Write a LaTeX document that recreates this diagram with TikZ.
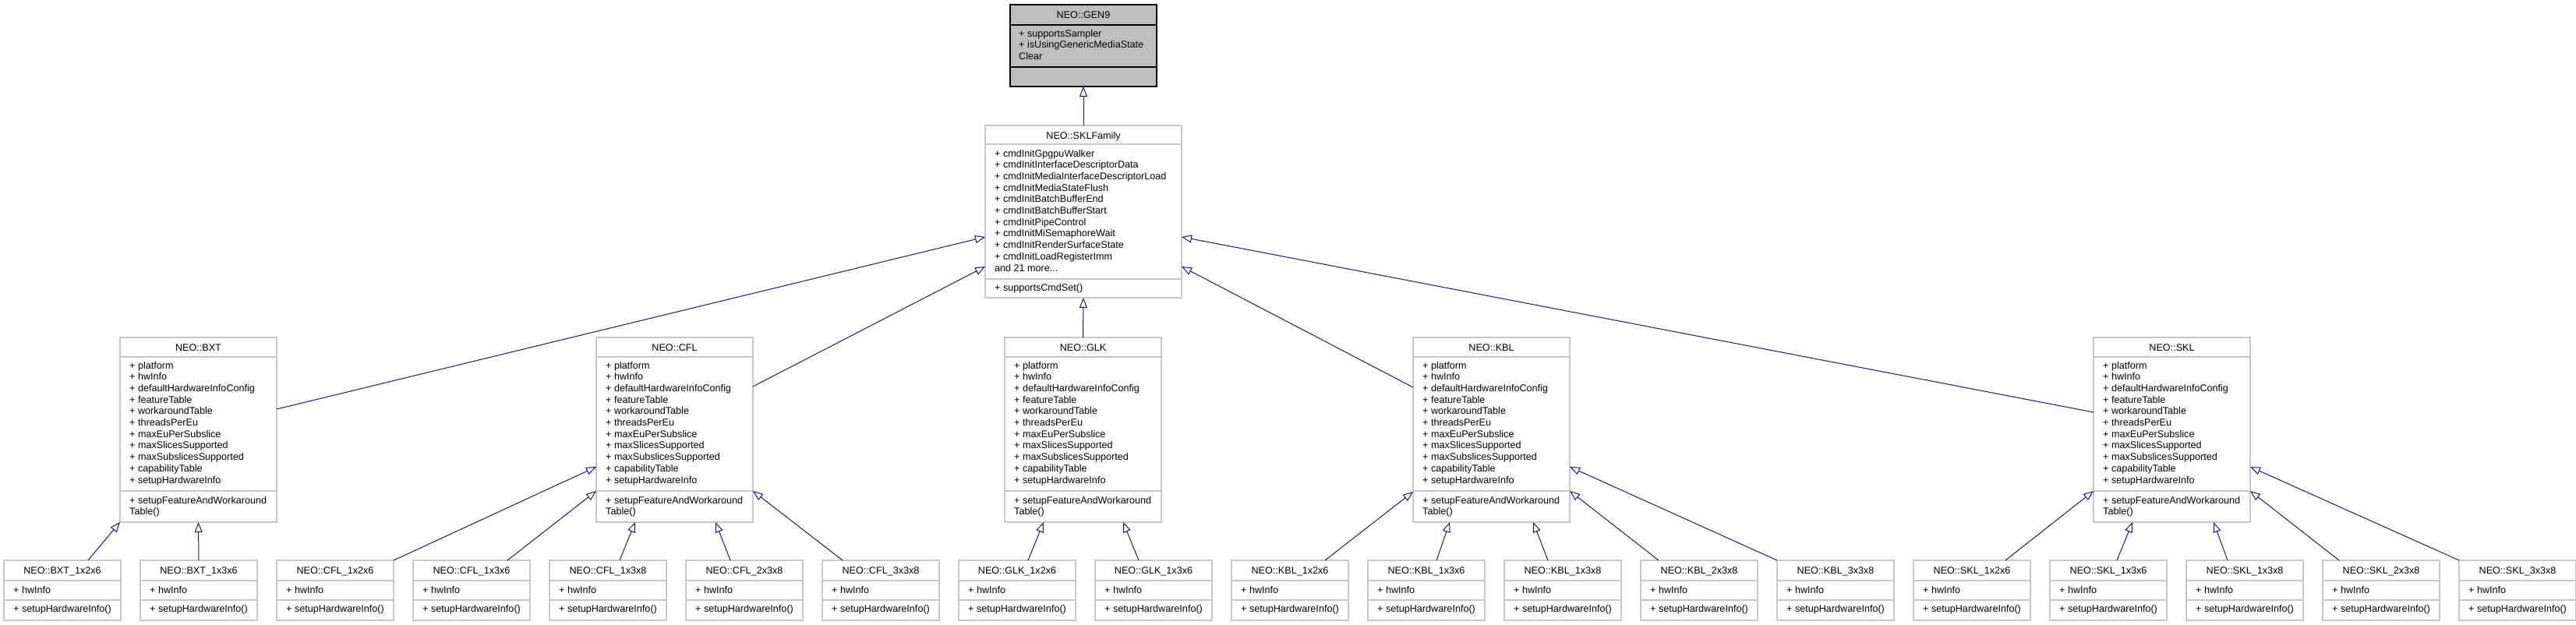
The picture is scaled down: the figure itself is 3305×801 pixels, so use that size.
\documentclass[tikz,border=0pt]{standalone}
\usepackage{fontspec}
\setmainfont{Liberation Sans}
\usetikzlibrary{arrows.meta, calc}

\definecolor{boxgray}{HTML}{C8C8C8}
\definecolor{basegray}{HTML}{BFBFBF}
\definecolor{edgeblue}{HTML}{191970}

\tikzset{
  cls/.style={draw=boxgray, line width=1.2pt, anchor=north west, inner sep=0pt, outer sep=0pt},
  sep/.style={draw=boxgray, line width=1.2pt},
  title/.style={font=\fontsize{12.6}{14.7}\selectfont, anchor=base, inner sep=0pt},
  member/.style={font=\fontsize{12.6}{14.7}\selectfont, anchor=base west, inner sep=0pt},
  inherit/.style={draw=edgeblue, line width=1pt, -{Triangle[open, length=13pt, width=10pt]}},
}

\begin{document}
\begin{tikzpicture}[x=1pt, y=-1pt]
  \useasboundingbox (0,0) rectangle (3305,801);

  % base class
  \node [cls, draw=black, fill=basegray, minimum width=188pt, minimum height=105pt] (gen9) at (1296,6) {};
  \draw [sep, draw=black] ($(gen9.north west)+(0,26)$) -- ($(gen9.north east)+(0,26)$);
  \draw [sep, draw=black] ($(gen9.north west)+(0,80)$) -- ($(gen9.north east)+(0,80)$);
  \node [title] at ($(gen9.north)+(0,17)$) {NEO::GEN9};
  \foreach \m [count=\k from 0] in {+ supportsSampler, + isUsingGenericMediaState, Clear}
    \node [member] at ($(gen9.north west)+(11,{41+14.7*\k})$) {\m};

  % family
  \node [cls, minimum width=252pt, minimum height=221pt] (sklfam) at (1264,161) {};
  \draw [sep] ($(sklfam.north west)+(0,24)$) -- ($(sklfam.north east)+(0,24)$);
  \draw [sep] ($(sklfam.north west)+(0,197)$) -- ($(sklfam.north east)+(0,197)$);
  \node [title] at ($(sklfam.north)+(0,17)$) {NEO::SKLFamily};
  \foreach \m [count=\k from 0] in {cmdInitGpgpuWalker, cmdInitInterfaceDescriptorData,
      cmdInitMediaInterfaceDescriptorLoad, cmdInitMediaStateFlush, cmdInitBatchBufferEnd,
      cmdInitBatchBufferStart, cmdInitPipeControl, cmdInitMiSemaphoreWait,
      cmdInitRenderSurfaceState, cmdInitLoadRegisterImm}
    \node [member] at ($(sklfam.north west)+(12,{40+14.7*\k})$) {+ \m};
  \node [member] at ($(sklfam.north west)+(12,187)$) {and 21 more...};
  \node [member] at ($(sklfam.north west)+(12,212)$) {+ supportsCmdSet()};

  % platforms
  \foreach \n/\nx/\ttl in {bxt/154/BXT, cfl/765/CFL, glk/1289/GLK, kbl/1813/KBL, skl/2686/SKL} {
    \node [cls, minimum width=201pt, minimum height=237pt] (\n) at (\nx,433) {};
    \draw [sep] ($(\n.north west)+(0,25)$) -- ($(\n.north east)+(0,25)$);
    \draw [sep] ($(\n.north west)+(0,197)$) -- ($(\n.north east)+(0,197)$);
    \node [title] at ($(\n.north)+(0,17)$) {NEO::\ttl};
    \foreach \m [count=\k from 0] in {platform, hwInfo, defaultHardwareInfoConfig, featureTable,
        workaroundTable, threadsPerEu, maxEuPerSubslice, maxSlicesSupported,
        maxSubslicesSupported, capabilityTable, setupHardwareInfo}
      \node [member] at ($(\n.north west)+(12,{40+14.7*\k})$) {+ \m};
    \node [member] at ($(\n.north west)+(12,213)$) {+ setupFeatureAndWorkaround};
    \node [member] at ($(\n.north west)+(12,227.7)$) {Table()};
  }

  % configurations
  \foreach \n/\ttl [count=\i from 0] in {bxtA/BXT\_1x2x6, bxtB/BXT\_1x3x6,
      cflA/CFL\_1x2x6, cflB/CFL\_1x3x6, cflC/CFL\_1x3x8, cflD/CFL\_2x3x8, cflE/CFL\_3x3x8,
      glkA/GLK\_1x2x6, glkB/GLK\_1x3x6,
      kblA/KBL\_1x2x6, kblB/KBL\_1x3x6, kblC/KBL\_1x3x8, kblD/KBL\_2x3x8, kblE/KBL\_3x3x8,
      sklA/SKL\_1x2x6, sklB/SKL\_1x3x6, sklC/SKL\_1x3x8, sklD/SKL\_2x3x8, sklE/SKL\_3x3x8} {
    \node [cls, minimum width=150pt, minimum height=77pt] (\n) at ({5+175*\i},719) {};
    \draw [sep] ($(\n.north west)+(0,26)$) -- ($(\n.north east)+(0,26)$);
    \draw [sep] ($(\n.north west)+(0,51)$) -- ($(\n.north east)+(0,51)$);
    \node [title] at ($(\n.north)+(0,17)$) {NEO::\ttl};
    \node [member] at ($(\n.north west)+(12,42)$) {+ hwInfo};
    \node [member] at ($(\n.north west)+(12,66)$) {+ setupHardwareInfo()};
  }

  % inheritance
  \draw [inherit] (sklfam.north) -- (gen9.south);
  \draw [inherit] ($(bxt.north east)+(0,92)$) -- ($(sklfam.north west)+(0,143)$);
  \draw [inherit] ($(cfl.north east)+(0,63)$) -- ($(sklfam.north west)+(0,181)$);
  \draw [inherit] (glk.north) -- (sklfam.south);
  \draw [inherit] ($(kbl.north west)+(0,64)$) -- ($(sklfam.north east)+(0,181)$);
  \draw [inherit] ($(skl.north west)+(0,96)$) -- ($(sklfam.north east)+(0,143)$);

  \draw [inherit] ($(bxtA.north west)+(108,0)$) -- (bxt.south west);
  \draw [inherit] (bxtB.north) -- (bxt.south);

  \draw [inherit] (cflA.north east) -- ($(cfl.north west)+(0,166)$);
  \draw [inherit] ($(cflB.north west)+(121,0)$) -- ($(cfl.north west)+(0,197)$);
  \draw [inherit] ($(cflC.north west)+(90,0)$) -- ($(cfl.south west)+(50,0)$);
  \draw [inherit] ($(cflD.north west)+(57,0)$) -- ($(cfl.south west)+(153,0)$);
  \draw [inherit] ($(cflE.north west)+(26,0)$) -- ($(cfl.north east)+(0,197)$);

  \draw [inherit] ($(glkA.north west)+(89,0)$) -- ($(glk.south west)+(50,0)$);
  \draw [inherit] ($(glkB.north west)+(56,0)$) -- ($(glk.south west)+(152,0)$);

  \draw [inherit] ($(kblA.north west)+(120,0)$) -- ($(kbl.north west)+(0,198)$);
  \draw [inherit] ($(kblB.north west)+(88,0)$) -- ($(kbl.south west)+(47,0)$);
  \draw [inherit] ($(kblC.north west)+(56,0)$) -- ($(kbl.south west)+(154,0)$);
  \draw [inherit] ($(kblD.north west)+(23,0)$) -- ($(kbl.north east)+(0,197)$);
  \draw [inherit] (kblE.north west) -- ($(kbl.north east)+(0,166)$);

  \draw [inherit] ($(sklA.north west)+(118,0)$) -- ($(skl.north west)+(0,197)$);
  \draw [inherit] ($(sklB.north west)+(86,0)$) -- ($(skl.south west)+(50,0)$);
  \draw [inherit] ($(sklC.north west)+(53,0)$) -- ($(skl.south west)+(154,0)$);
  \draw [inherit] ($(sklD.north west)+(21,0)$) -- ($(skl.north east)+(0,197)$);
  \draw [inherit] (sklE.north west) -- ($(skl.north east)+(0,166)$);
\end{tikzpicture}
\end{document}
